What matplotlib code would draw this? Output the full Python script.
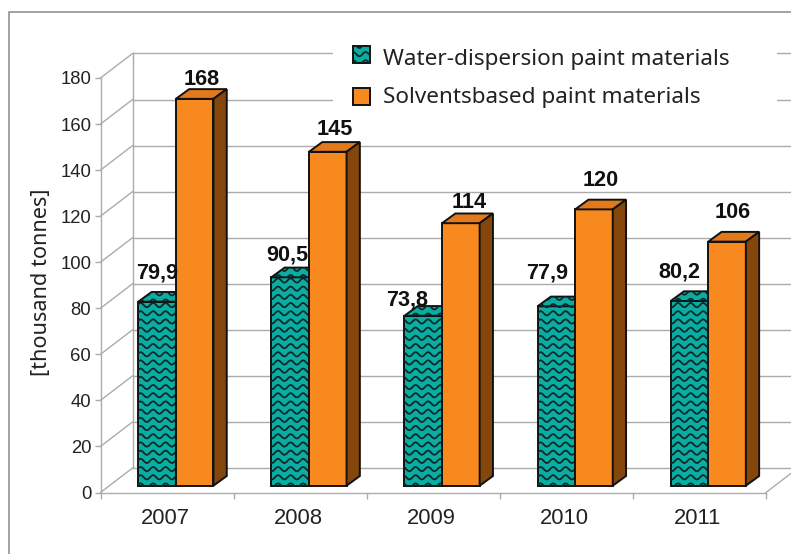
import numpy as np
import matplotlib
matplotlib.use('Agg')
import matplotlib.pyplot as plt
from matplotlib.collections import LineCollection
from matplotlib.lines import Line2D
from matplotlib.patches import Polygon, Rectangle
from matplotlib.transforms import IdentityTransform

years = ['2007', '2008', '2009', '2010', '2011']
water = [79.9, 90.5, 73.8, 77.9, 80.2]
solvent = [168, 145, 114, 120, 106]
y_ticks = [0, 20, 40, 60, 80, 100, 120, 140, 160, 180]
water_name = 'Water-dispersion paint materials'
solvent_name = 'Solventsbased paint materials'
y_title = '[thousand tonnes]'

# label offsets from the top centre of each bar, pixels
water_off = [(0, 29), (-3, 22), (-16, 16), (-9, 33), (-10, 29)]
solvent_off = [(7, 19), (7, 22), (8, 21), (7, 29), (6, 29)]

W, H = 791, 554
LEFT, RIGHT, TOP, BOTTOM = 100.5, 766, 78, 492.5
TEAL, ORANGE, ORANGE_TOP, BROWN = '#0AADA2', '#F7891F', '#E27A1B', '#84460A'
GRID = '#ABABAB'
TEXT = '#222222'
EDGE = '#111111'
LABEL_FONT = 'Liberation Sans'
HUMAN_FONT = 'Noto Sans'

fig = plt.figure(figsize=(W / 100, H / 100), dpi=100, facecolor='white')
ax = fig.add_axes([LEFT / W, 1 - BOTTOM / H, (RIGHT - LEFT) / W, (BOTTOM - TOP) / H])
ax.set_xlim(0, len(years))
ax.set_ylim(0, 180)
ax.patch.set_visible(False)

px_x = len(years) / (RIGHT - LEFT)
px_y = 180 / (BOTTOM - TOP)
wall_dx, wall_dy = 32 * px_x, 24.5 * px_y
bar_dx, bar_dy = 13.3 * px_x, 9.7 * px_y
base = 6.8 * px_y
bar_w = 37.6 * px_x
shift = 8.8 * px_x

# walls
for v in y_ticks:
    ax.plot([0, wall_dx], [v, v + wall_dy], color=GRID, lw=1, clip_on=False, zorder=1)
    ax.plot([wall_dx, len(years) + wall_dx], [v + wall_dy, v + wall_dy], color=GRID, lw=1, clip_on=False, zorder=1)
ax.plot([wall_dx, wall_dx], [wall_dy, 180 + wall_dy], color=GRID, lw=1, clip_on=False, zorder=1)
ax.plot([len(years), len(years) + wall_dx], [0, wall_dy], color=GRID, lw=1, clip_on=False, zorder=1)


def add_waves(parent, patch, zorder):
    # wavy hatch, drawn in pixels and clipped to the patch
    box = patch.get_window_extent()
    xs = np.arange(box.x0 - 2, box.x1 + 2, 0.5)
    segs = []
    for y in np.arange(box.y0 - 8, box.y1 + 8, 8.2):
        segs.append(np.column_stack([xs, y + 2.1 * np.sin(xs * 2 * np.pi / 12.5)]))
    lc = LineCollection(segs, colors='#10282A', linewidths=1.3, transform=IdentityTransform(), zorder=zorder)
    parent.add_artist(lc)
    lc.set_clip_path(patch)


def draw_bar(i, x0, val, color, top_color, side_color, off, wave):
    z = 3 + i * 2 + (0 if wave else 1)
    y0, y1 = base, base + val
    x1 = x0 + bar_w
    rect = ax.bar(x0, val, bar_w, bottom=base, align='edge', color=color, edgecolor=EDGE, lw=1.4, zorder=z)[0]
    top = Polygon([(x0, y1), (x1, y1), (x1 + bar_dx, y1 + bar_dy), (x0 + bar_dx, y1 + bar_dy)],
                  facecolor=top_color, edgecolor=EDGE, lw=1.4, zorder=z)
    side = Polygon([(x1, y0), (x1 + bar_dx, y0 + bar_dy), (x1 + bar_dx, y1 + bar_dy), (x1, y1)],
                   facecolor=side_color, edgecolor=EDGE, lw=1.4, zorder=z)
    ax.add_patch(top)
    ax.add_patch(side)
    if wave:
        add_waves(ax, rect, z + 0.1)
        add_waves(ax, top, z + 0.1)
    text = str(val).replace('.', ',')
    ax.annotate(text, (x0 + bar_w / 2, y1), xytext=off, textcoords='offset pixels', ha='center', va='center',
                fontsize=15.6, fontweight='bold', family=LABEL_FONT, color=EDGE, zorder=30, annotation_clip=False)


for i in range(len(years)):
    x0 = i + 0.5 + shift - bar_w
    draw_bar(i, x0, water[i], TEAL, TEAL, TEAL, water_off[i], True)
    draw_bar(i, x0 + bar_w, solvent[i], ORANGE, ORANGE_TOP, BROWN, solvent_off[i], False)

# axes
for s in ('top', 'right'):
    ax.spines[s].set_visible(False)
for s in ('left', 'bottom'):
    ax.spines[s].set_color(GRID)
    ax.spines[s].set_linewidth(1)
    ax.spines[s].set_zorder(1)
ax.set_yticks(y_ticks)
ax.set_xticks(range(len(years) + 1))
ax.set_xticklabels([])
ax.set_xticks([i + 0.5 - 1.5 * px_x for i in range(len(years))], minor=True)
ax.set_xticklabels(years, minor=True, family=LABEL_FONT, fontsize=15.8, color=TEXT)
ax.tick_params(axis='x', which='minor', length=0, pad=11)
ax.tick_params(axis='x', which='major', length=4.5, color=GRID, width=1)
ax.tick_params(axis='y', length=4.5, color=GRID, width=1, pad=2.2, labelsize=13.3, labelcolor=TEXT)
for t in ax.get_yticklabels():
    t.set_family(LABEL_FONT)
ax.set_ylabel(y_title, family=HUMAN_FONT, fontsize=15.6, color=TEXT, va='center')
ax.yaxis.set_label_coords((42 - LEFT) / (RIGHT - LEFT), (BOTTOM - 282) / (BOTTOM - TOP))

# outer frame
fig.add_artist(Line2D([9 / W, 9 / W, 1], [0, 1 - 12 / H, 1 - 12 / H], color='#9A9A9A', lw=1.3))

# legend
fig.add_artist(Rectangle((333 / W, 1 - 112 / H), 444 / W, 74 / H, transform=fig.transFigure,
                         facecolor='white', edgecolor='none', zorder=40))
h1 = Rectangle((352.5 / W, 1 - 62.5 / H), 17 / W, 17 / H, transform=fig.transFigure,
               facecolor=TEAL, edgecolor=EDGE, lw=1.4, zorder=41)
h2 = Rectangle((352.5 / W, 1 - 105 / H), 17 / W, 17 / H, transform=fig.transFigure,
               facecolor=ORANGE, edgecolor=EDGE, lw=1.4, zorder=41)
fig.add_artist(h1)
fig.add_artist(h2)
add_waves(fig, h1, 42)
fig.text(383 / W, 1 - 60 / H, water_name, family=HUMAN_FONT, fontsize=16.2, color=TEXT, va='center', zorder=43)
fig.text(383 / W, 1 - 97 / H, solvent_name, family=HUMAN_FONT, fontsize=16.2, color=TEXT, va='center', zorder=43)

fig.savefig('out.png', dpi=100)
